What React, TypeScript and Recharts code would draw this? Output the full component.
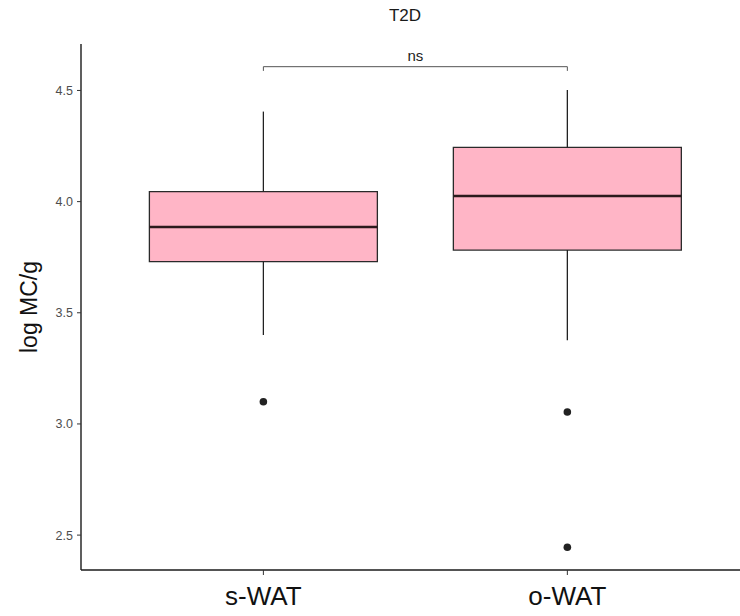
import {
  ComposedChart,
  ReferenceArea,
  ReferenceLine,
  Scatter,
  XAxis,
  YAxis,
} from 'recharts'

const groups = ['s-WAT', 'o-WAT']
const positions = [1, 2]
const lowerWhisker = [3.4, 3.377]
const q1 = [3.73, 3.782]
const median = [3.886, 4.025]
const q3 = [4.045, 4.244]
const upperWhisker = [4.405, 4.502]

const outlierGroup = [1, 2, 2]
const outlierValue = [3.1, 3.054, 2.445]

const yTicks = [2.5, 3.0, 3.5, 4.0, 4.5]
const bracketY = 4.607
const bracketTip = 4.588

const FONT = '"Liberation Sans", Arial, Helvetica, sans-serif'
const BOX_HALF = 0.375

const outliers = outlierGroup.map((g, i) => ({ x: g, y: outlierValue[i] }))

export default function App() {
  return (
    <div
      style={{
        position: 'absolute',
        left: 0,
        top: 0,
        width: 740,
        height: 616,
        background: '#fff',
        fontFamily: FONT,
      }}
    >
      <div
        style={{
          position: 'absolute',
          left: 0,
          width: 810,
          top: 6,
          textAlign: 'center',
          fontSize: 17,
          color: '#1a1a1a',
        }}
      >
        T2D
      </div>
      <ComposedChart
        width={740}
        height={616}
        margin={{ top: 44, right: 0, bottom: 0, left: 0 }}
        style={{ fontFamily: FONT }}
      >
        <XAxis
          type="number"
          dataKey="x"
          domain={[0.4, 2.568]}
          ticks={positions}
          tickFormatter={(v: number) => groups[positions.indexOf(v)] ?? ''}
          axisLine={{ stroke: '#1a1a1a', strokeWidth: 1.4 }}
          tickLine={{ stroke: '#333' }}
          tickSize={5}
          tickMargin={12}
          tick={{ fontSize: 26, fill: '#111' }}
          height={46}
          allowDataOverflow
        />
        <YAxis
          type="number"
          dataKey="y"
          domain={[2.343, 4.709]}
          ticks={yTicks}
          tickFormatter={(v: number) => v.toFixed(1)}
          axisLine={{ stroke: '#1a1a1a', strokeWidth: 1.4 }}
          tickLine={{ stroke: '#333' }}
          tickSize={4}
          tickMargin={4}
          tick={{ fontSize: 12.5, fill: '#4d4d4d' }}
          width={81}
          allowDataOverflow
          label={{
            content: (props: any) => {
              const vb = props.viewBox || { x: 0, y: 44, height: 526 }
              const cx = 29
              const cy = vb.y + vb.height / 2
              return (
                <text
                  x={cx}
                  y={cy}
                  transform={`rotate(-90 ${cx} ${cy})`}
                  textAnchor="middle"
                  dominantBaseline="central"
                  fontSize={23}
                  fill="#111"
                >
                  log MC/g
                </text>
              )
            },
          }}
        />
        {positions.map((p, i) => (
          <ReferenceLine
            key={`wu-${i}`}
            segment={[
              { x: p, y: q3[i] },
              { x: p, y: upperWhisker[i] },
            ]}
            stroke="#222"
            strokeWidth={1.3}
          />
        ))}
        {positions.map((p, i) => (
          <ReferenceLine
            key={`wl-${i}`}
            segment={[
              { x: p, y: lowerWhisker[i] },
              { x: p, y: q1[i] },
            ]}
            stroke="#222"
            strokeWidth={1.3}
          />
        ))}
        {positions.map((p, i) => (
          <ReferenceArea
            key={`box-${i}`}
            x1={p - BOX_HALF}
            x2={p + BOX_HALF}
            y1={q1[i]}
            y2={q3[i]}
            fill="#ffb5c6"
            fillOpacity={1}
            stroke="#2a2a2a"
            strokeWidth={1.3}
          />
        ))}
        {positions.map((p, i) => (
          <ReferenceLine
            key={`med-${i}`}
            segment={[
              { x: p - BOX_HALF, y: median[i] },
              { x: p + BOX_HALF, y: median[i] },
            ]}
            stroke="#2b1a1c"
            strokeWidth={2.6}
          />
        ))}
        <Scatter
          data={outliers}
          fill="#222"
          shape={(props: any) => <circle cx={props.cx} cy={props.cy} r={3.8} fill="#222" />}
          isAnimationActive={false}
        />
        <ReferenceLine
          segment={[
            { x: positions[0], y: bracketY },
            { x: positions[1], y: bracketY },
          ]}
          stroke="#555"
          strokeWidth={1}
          label={{ value: 'ns', position: 'top', offset: 6, fontSize: 15, fill: '#222' }}
        />
        {positions.map((p, i) => (
          <ReferenceLine
            key={`tip-${i}`}
            segment={[
              { x: p, y: bracketTip },
              { x: p, y: bracketY },
            ]}
            stroke="#555"
            strokeWidth={1}
          />
        ))}
      </ComposedChart>
    </div>
  )
}
